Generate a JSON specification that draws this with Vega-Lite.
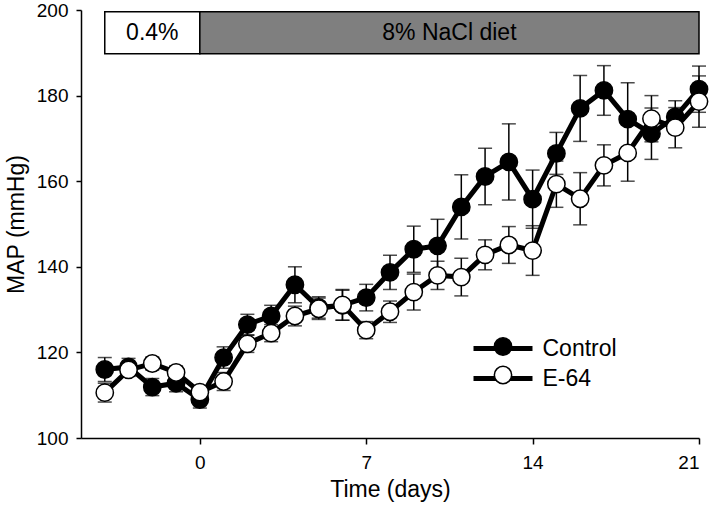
{
  "$schema": "https://vega.github.io/schema/vega-lite/v6.json",
  "width": 618,
  "height": 428,
  "autosize": {"type": "none"},
  "padding": {"left": 81, "top": 10, "right": 10, "bottom": 68},
  "config": {
    "view": {"stroke": null},
    "font": "Liberation Sans",
    "axis": {
      "domainColor": "black", "domainWidth": 1.5,
      "tickColor": "black", "tickWidth": 1.5,
      "labelColor": "black", "titleColor": "black",
      "labelFont": "Liberation Sans", "titleFont": "Liberation Sans",
      "labelFontSize": 19, "titleFontSize": 23, "titleFontWeight": "normal",
      "grid": false
    }
  },
  "datasets": {
    "map": [
      {"day": -4, "group": "Control", "mean": 116.0, "sem": 2.8},
      {"day": -3, "group": "Control", "mean": 116.6, "sem": 2.0},
      {"day": -2, "group": "Control", "mean": 111.9, "sem": 2.0},
      {"day": -1, "group": "Control", "mean": 112.8, "sem": 2.0},
      {"day": 0, "group": "Control", "mean": 109.0, "sem": 2.0},
      {"day": 1, "group": "Control", "mean": 118.8, "sem": 2.5},
      {"day": 2, "group": "Control", "mean": 126.5, "sem": 2.4},
      {"day": 3, "group": "Control", "mean": 128.5, "sem": 2.5},
      {"day": 4, "group": "Control", "mean": 135.8, "sem": 4.2},
      {"day": 5, "group": "Control", "mean": 130.5, "sem": 2.5},
      {"day": 6, "group": "Control", "mean": 131.0, "sem": 3.5},
      {"day": 7, "group": "Control", "mean": 132.8, "sem": 3.1},
      {"day": 8, "group": "Control", "mean": 138.7, "sem": 4.0},
      {"day": 9, "group": "Control", "mean": 144.1, "sem": 5.4},
      {"day": 10, "group": "Control", "mean": 144.9, "sem": 6.2},
      {"day": 11, "group": "Control", "mean": 154.0, "sem": 7.5},
      {"day": 12, "group": "Control", "mean": 161.1, "sem": 6.6},
      {"day": 13, "group": "Control", "mean": 164.5, "sem": 8.9},
      {"day": 14, "group": "Control", "mean": 155.8, "sem": 6.8},
      {"day": 15, "group": "Control", "mean": 166.5, "sem": 4.9},
      {"day": 16, "group": "Control", "mean": 177.0, "sem": 7.7},
      {"day": 17, "group": "Control", "mean": 181.2, "sem": 5.8},
      {"day": 18, "group": "Control", "mean": 174.5, "sem": 8.5},
      {"day": 19, "group": "Control", "mean": 171.1, "sem": 6.0},
      {"day": 20, "group": "Control", "mean": 175.0, "sem": 3.8},
      {"day": 21, "group": "Control", "mean": 181.5, "sem": 5.4},
      {"day": -4, "group": "E-64", "mean": 110.6, "sem": 2.2},
      {"day": -3, "group": "E-64", "mean": 115.9, "sem": 1.5},
      {"day": -2, "group": "E-64", "mean": 117.4, "sem": 1.5},
      {"day": -1, "group": "E-64", "mean": 115.3, "sem": 1.5},
      {"day": 0, "group": "E-64", "mean": 110.7, "sem": 1.5},
      {"day": 1, "group": "E-64", "mean": 113.2, "sem": 2.1},
      {"day": 2, "group": "E-64", "mean": 122.0, "sem": 2.0},
      {"day": 3, "group": "E-64", "mean": 124.5, "sem": 2.0},
      {"day": 4, "group": "E-64", "mean": 128.5, "sem": 2.3},
      {"day": 5, "group": "E-64", "mean": 130.2, "sem": 2.5},
      {"day": 6, "group": "E-64", "mean": 131.1, "sem": 3.6},
      {"day": 7, "group": "E-64", "mean": 125.2, "sem": 2.0},
      {"day": 8, "group": "E-64", "mean": 129.5, "sem": 2.5},
      {"day": 9, "group": "E-64", "mean": 134.1, "sem": 4.2},
      {"day": 10, "group": "E-64", "mean": 138.0, "sem": 3.3},
      {"day": 11, "group": "E-64", "mean": 137.6, "sem": 4.4},
      {"day": 12, "group": "E-64", "mean": 142.8, "sem": 3.5},
      {"day": 13, "group": "E-64", "mean": 145.1, "sem": 4.3},
      {"day": 14, "group": "E-64", "mean": 143.8, "sem": 5.8},
      {"day": 15, "group": "E-64", "mean": 159.3, "sem": 5.4},
      {"day": 16, "group": "E-64", "mean": 155.9, "sem": 6.1},
      {"day": 17, "group": "E-64", "mean": 163.7, "sem": 4.8},
      {"day": 18, "group": "E-64", "mean": 166.6, "sem": 6.6},
      {"day": 19, "group": "E-64", "mean": 174.6, "sem": 5.4},
      {"day": 20, "group": "E-64", "mean": 172.5, "sem": 4.7},
      {"day": 21, "group": "E-64", "mean": 178.6, "sem": 6.0}
    ],
    "diet": [
      {"label": "0.4%", "start": -4, "end": 0},
      {"label": "8% NaCl diet", "start": 0, "end": 21}
    ]
  },
  "layer": [
    {
      "data": {"name": "diet"},
      "mark": {"type": "rect", "stroke": "black", "strokeWidth": 1.5},
      "encoding": {
        "x": {"field": "start", "type": "quantitative", "scale": {"domain": [-5, 21], "nice": false, "zero": false}, "title": "Time (days)"},
        "x2": {"field": "end"},
        "y": {"datum": 199.6, "type": "quantitative", "scale": {"domain": [100, 200], "nice": false, "zero": false}, "title": "MAP (mmHg)"},
        "y2": {"datum": 189.8},
        "color": {"field": "label", "type": "nominal", "scale": {"domain": ["0.4%", "8% NaCl diet"], "range": ["#ffffff", "#7f7f7f"]}, "legend": null}
      }
    },
    {
      "data": {"name": "diet"},
      "transform": [{"calculate": "(datum.start + datum.end) / 2", "as": "mid"}],
      "mark": {"type": "text", "fontSize": 23, "color": "black", "font": "Liberation Sans", "baseline": "middle"},
      "encoding": {
        "x": {"field": "mid", "type": "quantitative", "title": "Time (days)"},
        "y": {"datum": 194.7, "type": "quantitative", "title": "MAP (mmHg)"},
        "text": {"field": "label"}
      }
    },
    {
      "data": {"name": "map"},
      "mark": {"type": "errorbar", "color": "black", "ticks": {"size": 14, "thickness": 1.5, "color": "black"}, "rule": {"strokeWidth": 1.5, "color": "black"}},
      "encoding": {
        "x": {"field": "day", "type": "quantitative", "title": "Time (days)",
              "axis": {"values": [0, 7, 14, 21], "tickSize": 6, "labelPadding": 9, "titlePadding": 6}},
        "y": {"field": "mean", "type": "quantitative", "title": "MAP (mmHg)",
              "axis": {"values": [100, 120, 140, 160, 180, 200], "tickSize": 5, "labelPadding": 8, "titlePadding": 8}},
        "yError": {"field": "sem"},
        "detail": {"field": "group"}
      }
    },
    {
      "data": {"name": "map"},
      "mark": {"type": "line", "strokeWidth": 5},
      "encoding": {
        "x": {"field": "day", "type": "quantitative", "title": "Time (days)"},
        "y": {"field": "mean", "type": "quantitative", "title": "MAP (mmHg)"},
        "stroke": {"field": "group", "type": "nominal",
                   "scale": {"domain": ["Control", "E-64"], "range": ["#000000", "#000000"]},
                   "legend": {"title": null, "orient": "none", "legendX": 404.5, "legendY": 321, "padding": 0,
                              "symbolType": "M-2,0H2", "symbolSize": 870, "symbolStrokeWidth": 5,
                              "labelFontSize": 23, "labelFont": "Liberation Sans", "labelColor": "black",
                              "labelOffset": 22, "rowPadding": 0}}
      }
    },
    {
      "data": {"name": "map"},
      "mark": {"type": "circle", "size": 300, "stroke": "black", "strokeWidth": 1.5, "opacity": 1},
      "encoding": {
        "x": {"field": "day", "type": "quantitative", "title": "Time (days)"},
        "y": {"field": "mean", "type": "quantitative", "title": "MAP (mmHg)"},
        "fill": {"field": "group", "type": "nominal",
                 "scale": {"range": ["#000000", "#ffffff"]},
                 "legend": {"title": null, "orient": "none", "legendX": 412.5, "legendY": 327, "padding": 0,
                            "symbolType": "circle", "symbolSize": 300, "symbolStrokeColor": "black", "symbolStrokeWidth": 1.5,
                            "symbolOpacity": 1,
                            "labelExpr": "''", "labelFontSize": 1, "labelOffset": 0, "rowPadding": 3.5}}
      }
    },
    {
      "mark": {"type": "rule", "strokeDash": [12, 7], "strokeWidth": 1.5, "color": "black"},
      "encoding": {
        "x": {"datum": 0, "type": "quantitative"},
        "y": {"datum": 100, "type": "quantitative"},
        "y2": {"datum": 189.8}
      }
    }
  ]
}
